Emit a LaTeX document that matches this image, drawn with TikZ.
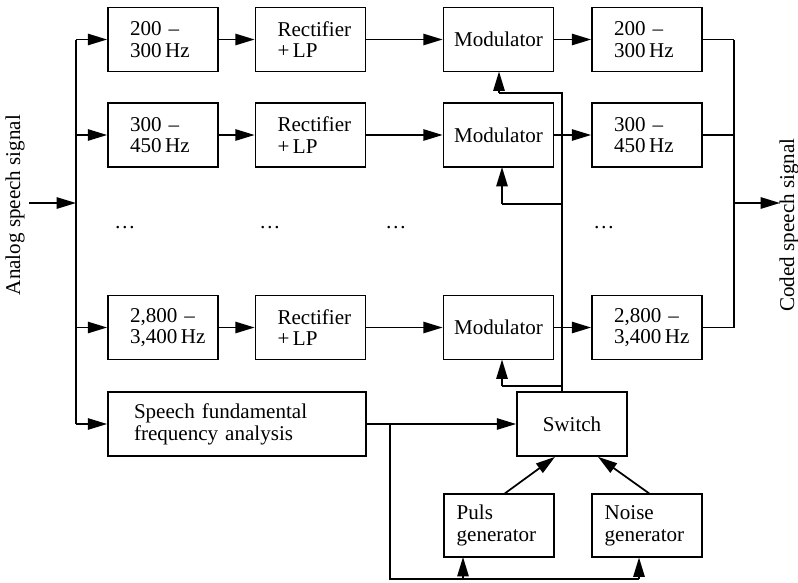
\documentclass[tikz,border=0pt]{standalone}
\usepackage{fontspec}
\setmainfont{Liberation Serif}
\usetikzlibrary{arrows.meta}
\begin{document}
\begin{tikzpicture}[x=0.75pt,y=-0.75pt,
  font=\fontsize{15.8}{16.3}\selectfont,
  line width=1.3pt,
  >={Triangle[length=14.5pt,width=8.5pt]},
  cbox/.style={draw, minimum width=82.5pt, minimum height=48pt, inner sep=0pt},
  lbox/.style={draw, text width=49.5pt, inner xsep=16.5pt, inner ysep=0pt,
               minimum height=48pt, align=left},
  gbox/.style={draw, text width=63.5pt, inner xsep=9.5pt, inner ysep=0pt,
               minimum height=47pt, align=left},
  dotsnode/.style={inner sep=0pt}
]
\useasboundingbox (0,0) rectangle (798,582);

% band-pass filters (analysis side)
\node[lbox] (f1) at (163,39.5) {200 –\\300\,Hz};
\node[lbox] (f2) at (163,135)  {300 –\\450\,Hz};
\node[lbox] (f3) at (163,327.5) {2,800 –\\3,400\,Hz};

% rectifier + low pass
\node[lbox] (r1) at (310.5,39.5) {Rectifier\\+\,LP};
\node[lbox] (r2) at (310.5,135)  {Rectifier\\+\,LP};
\node[lbox] (r3) at (310.5,327.5) {Rectifier\\+\,LP};

% modulators
\node[cbox] (m1) at (498.5,39.5) {Modulator};
\node[cbox] (m2) at (498.5,135)  {Modulator};
\node[cbox] (m3) at (498.5,327.5) {Modulator};

% band-pass filters (synthesis side)
\node[lbox] (o1) at (647,39.5) {200 –\\300\,Hz};
\node[lbox] (o2) at (647,135)  {300 –\\450\,Hz};
\node[lbox] (o3) at (647,327.5) {2,800 –\\3,400\,Hz};

% fundamental frequency analysis, switch and excitation sources
\node[draw, text width=154.5pt, inner xsep=19.5pt, inner ysep=0pt,
      minimum height=48pt, align=left] (an) at (237,424)
      {Speech fundamental\\frequency analysis};
\node[cbox] (sw) at (572,424) {Switch};
\node[gbox] (pg) at (499,525.5) {Puls\\generator};
\node[gbox] (ng) at (647,525.5) {Noise\\generator};

% continuation dots
\node[dotsnode] (d1) at (125,228) {\ldots};
\node[dotsnode] (d2) at (270,228) {\ldots};
\node[dotsnode] (d3) at (396,228) {\ldots};
\node[dotsnode] (d4) at (604,228) {\ldots};

% side labels
\node[rotate=90] (inlbl) at (15,205) {Analog speech signal};
\node[rotate=90] (outlbl) at (789,225) {Coded speech signal};

% input bus
\coordinate (inA) at (29,203);
\coordinate (inB) at (76,203);
\coordinate (busT) at (76,39.5);
\coordinate (busB) at (76,424);
\draw[->] (inA) -- (inB);
\draw (busT) -- (busB);
\draw[->] (busT) -- (f1.west);
\draw[->] (76,135) -- (f2.west);
\draw[->] (76,327.5) -- (f3.west);
\draw[->] (busB) -- (an.west);

% channel chains
\foreach \i in {1,2,3}{
  \draw[->] (f\i.east) -- (r\i.west);
  \draw[->] (r\i.east) -- (m\i.west);
  \draw[->] (m\i.east) -- (o\i.west);
}

% output bus
\coordinate (obT) at (734,39.5);
\coordinate (obB) at (734,327.5);
\coordinate (obM) at (734,203);
\coordinate (outE) at (780,203);
\draw (o1.east) -- (obT);
\draw (o2.east) -- (734,135);
\draw (o3.east) -- (obB);
\draw (obT) -- (obB);
\draw[->] (obM) -- (outE);

% excitation feed from the switch to the modulators
\coordinate (feedB) at ([xshift=-7.5pt]sw.north);
\coordinate (feedT) at (562,93);
\draw (feedB) -- (feedT) -- (499,93);
\draw[->] (499,93) -- (499,71.5);
\draw (562,204) -- (502,204);
\draw[->] (502,204) -- (502,167);
\draw (562,386) -- (502,386);
\draw[->] (502,386) -- (502,359.5);

% pitch decision to the switch and the generators
\coordinate (tap) at (390,424);
\coordinate (tapB) at (390,579);
\coordinate (botR) at (639,579);
\draw[->] (an.east) -- (sw.west);
\draw (tap) -- (tapB) -- (botR);
\draw[->] (463,579) -- (463,557);
\draw[->] (botR) -- (639,557.5);

% generators to the switch
\draw[->] ([xshift=4.5pt]pg.north) -- ([xshift=-12.75pt]sw.south);
\draw[->] ([xshift=1.5pt]ng.north) -- ([xshift=19.5pt]sw.south);
\end{tikzpicture}
\end{document}
